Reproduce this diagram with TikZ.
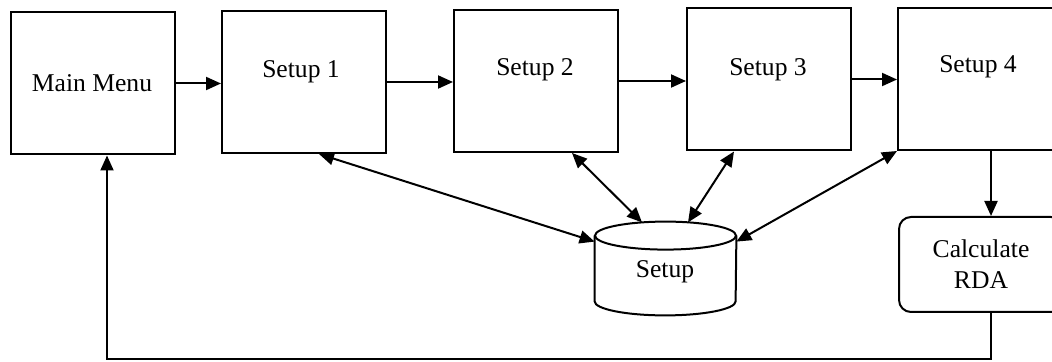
\documentclass[tikz,border=0pt]{standalone}
\usepackage{fontspec}
\setmainfont{Liberation Serif}
\usetikzlibrary{arrows.meta,calc}
\begin{document}
\begin{tikzpicture}[x=0.5pt,y=-0.5pt,
  every node/.style={font=\fontsize{12.8}{15.5}\selectfont},
  box/.style={draw,line width=1pt,minimum width=82pt,minimum height=71pt,inner sep=0pt},
  roundbox/.style={draw,line width=1pt,rounded corners=6pt,minimum width=82pt,minimum height=47.5pt,inner sep=0pt,align=center},
  arr/.style={line width=1pt,-{Triangle[length=7.5pt,width=6.5pt]}},
  biarr/.style={line width=1pt,{Triangle[length=7.5pt,width=6.5pt]}-{Triangle[length=7.5pt,width=6.5pt]}}]
\useasboundingbox (0,0) rectangle (1052,362);
\clip (0,0) rectangle (1052,362);

% screens of the setup sequence
\node[box] (mm) at (93,83.5) {};
\node at (92,83) {Main Menu};
\node[box] (s1) at (304,82) {};
\node at (301,72) {Setup 1};
\node[box] (s2) at (536,81) {};
\node at (535,70) {Setup 2};
\node[box] (s3) at (769,79.5) {};
\node at (768,70) {Setup 3};
\node[box] (s4) at (980,79) {};
\node at (978,67) {Setup 4};

% calculation step
\node[roundbox] (calc) at (981,264.5) {Calculate\\RDA};

% setup data store (cylinder)
\node[minimum width=70.5pt,minimum height=46.5pt,inner sep=0pt] (db) at (665.5,268.5) {};
\node at (665,272) {Setup};
\draw[line width=1pt]
  ($(db.north)+(0,14)$) ellipse [x radius=35.25pt,y radius=7pt];
\draw[line width=1pt]
  ($(db.north west)+(0,14)$) -- ($(db.south west)+(0,-14)$)
  arc [start angle=180,end angle=360,x radius=35.25pt,y radius=7pt]
  -- ($(db.north east)+(0,14)$);

% attachment points on the data store
\coordinate (dbl) at ($(db.north west)+(0,20)$);
\coordinate (dbr) at ($(db.north east)+(0,20)$);
\coordinate (dbt1) at ($(db.north)+(-23.5,0.8)$);
\coordinate (dbt2) at ($(db.north)+(22.5,0.8)$);

% forward flow
\draw[arr] (mm.east) -- (mm.east -| s1.west);
\draw[arr] (s1.east) -- (s1.east -| s2.west);
\draw[arr] (s2.east) -- (s2.east -| s3.west);
\draw[arr] (s3.east) -- (s3.east -| s4.west);

% reads and writes of the setup data
\draw[biarr] ($(s1.south west)+(98,0)$) -- (dbl);
\draw[biarr] ($(s2.south west)+(119,0)$) -- (dbt1);
\draw[biarr] ($(s3.south west)+(48,0)$) -- (dbt2);
\draw[biarr] (s4.south west) -- (dbr);

% to calculation and back to the main menu
\coordinate (c4) at ($(s4.south west)+(94,0)$);
\draw[arr] (c4) -- (c4 |- calc.north);
\coordinate (back) at (107,359.5);
\draw[arr] (c4 |- calc.south) -- (c4 |- back) -- (back) -- (back |- mm.south);
\end{tikzpicture}
\end{document}
